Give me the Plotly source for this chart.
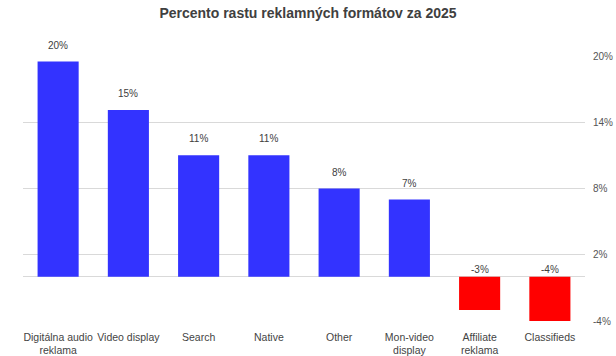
import plotly.graph_objects as go

categories = ["Digitálna audio<br>reklama", "Video display", "Search", "Native", "Other",
              "Mon-video<br>display", "Affiliate<br>reklama", "Classifieds"]
values = [19.5, 15.1, 11.0, 11.0, 8.0, 7.0, -3.0, -4.0]
labels = ["20%", "15%", "11%", "11%", "8%", "7%", "-3%", "-4%"]
tick_vals = [20, 14, 8, 2, -4]
tick_text = ["20%", "14%", "8%", "2%", "-4%"]

colors = ["#3333ff" if v >= 0 else "#ff0000" for v in values]

fig = go.Figure()
fig.add_trace(go.Bar(
    x=categories, y=values,
    marker=dict(color=colors, line=dict(width=0)),
    hoverinfo="skip",
))

for c, v, t in zip(categories, values, labels):
    fig.add_annotation(
        x=c, y=max(v, 0), text=t, showarrow=False,
        yanchor="bottom", yshift=9 if v >= 0 else 0,
        font=dict(family="Liberation Sans, Arial", size=10, color="#404040"),
    )

fig.update_layout(
    width=616, height=356,
    margin=dict(l=23, r=31, t=56, b=35),
    paper_bgcolor="white", plot_bgcolor="white",
    bargap=0.415,
    showlegend=False,
    title=dict(text="<b>Percento rastu reklamných formátov za 2025</b>",
               x=0.5, xanchor="center", y=0.962, yanchor="middle",
               font=dict(family="Liberation Sans, Arial", size=14, color="#404040")),
    font=dict(family="Liberation Sans, Arial", size=11, color="#404040"),
)
fig.update_xaxes(
    showgrid=False, showline=False, ticks="", tickangle=0, automargin=False,
    tickfont=dict(family="Liberation Sans, Arial", size=10.5, color="#444444"),
    ticklabelstandoff=8,
)
fig.update_yaxes(
    side="right", range=[-4, 20], automargin=False,
    tickvals=tick_vals, ticktext=tick_text,
    showgrid=True, gridcolor="#d9d9d9", gridwidth=1,
    zeroline=True, zerolinecolor="#d9d9d9", zerolinewidth=1,
    showline=False, ticks="",
    tickfont=dict(family="Liberation Sans, Arial", size=10, color="#555555"),
    ticklabelstandoff=7,
)

fig.write_html(
    "out.html",
    config={"displayModeBar": False},
    post_script="document.body.style.margin='0';document.body.style.padding='0';",
)
